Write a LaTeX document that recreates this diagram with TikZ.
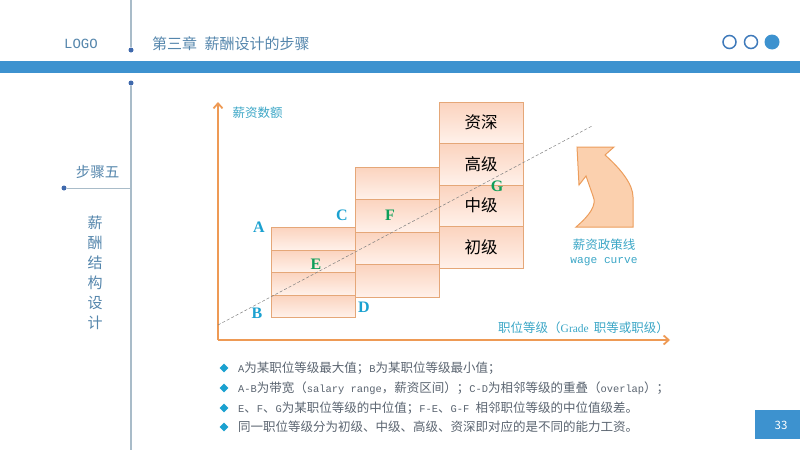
\documentclass[tikz,border=0pt]{standalone}
\usepackage{fontspec}
\setmainfont{Noto Sans CJK SC}
\newfontfamily\lettfont{Liberation Serif}
\newfontfamily\monofont{Liberation Mono}
\usetikzlibrary{positioning,shapes.geometric,arrows.meta}
\definecolor{barblue}{HTML}{3D92CF}
\definecolor{headblue}{HTML}{5586AC}
\definecolor{dotblue}{HTML}{3F69AC}
\definecolor{ruleblue}{HTML}{A9BCC9}
\definecolor{tealtext}{HTML}{3BA6C6}
\definecolor{axisorange}{HTML}{EE9A55}
\definecolor{boxline}{HTML}{E5A778}
\definecolor{boxtop}{HTML}{FBD3BE}
\definecolor{boxbot}{HTML}{FFF1EA}
\definecolor{shapefill}{HTML}{FBD0AE}
\definecolor{lettblue}{HTML}{1BA1D0}
\definecolor{lettgreen}{HTML}{0E9F5A}
\definecolor{listgray}{HTML}{5A6470}
\newcommand{\fs}[1]{\fontsize{#1}{#1}\selectfont}
\newcommand{\ms}[1]{{\monofont\fs{10.4}#1}}
\newcommand{\gl}[1]{\raisebox{-2pt}{#1}}
\begin{document}
\begin{tikzpicture}[x=1pt, y=-1pt,
  grade/.style = {draw=boxline, top color=boxtop, bottom color=boxbot, minimum width=84pt, inner sep=0pt, outer sep=0pt, font=\fs{16.5}},
  lett/.style = {font=\lettfont\bfseries\fs{16}, inner sep=0pt},
  dot/.style = {circle, fill=dotblue, minimum size=5pt, inner sep=0pt},
  ring/.style = {circle, draw=#1, line width=1.5pt, minimum size=13pt, inner sep=0pt},
  bull/.style = {diamond, fill=lettblue, minimum size=9pt, inner sep=0pt},
  item/.style = {anchor=west, inner sep=0pt, text=listgray, font=\fs{12.5}},
  teal/.style = {text=tealtext, inner sep=0pt, font=\fs{12.5}},
  head/.style = {text=headblue, inner sep=0pt},
  axis/.style = {-{Straight Barb[length=5pt,width=9pt]}, axisorange, line width=1.8pt}]
\useasboundingbox (0,0) rectangle (800,450);
\fill[barblue] (0,61) rectangle (800,73);
\node[dot] (d1) at (131,50) {};
\node[dot] (d2) at (131,83) {};
\node[dot] (d3) at (64,188) {};
\coordinate (t1) at (131,0);
\coordinate (t2) at (131,450);
\coordinate (t3) at (131,188);
\draw[ruleblue, line width=1.5pt] (t1) -- (d1);
\draw[ruleblue, line width=1.5pt] (d2) -- (t2);
\draw[ruleblue, line width=1pt] (d3) -- (t3);
\node[head, font=\monofont\fs{14}] (logo) at (81,44) {LOGO};
\node[head, anchor=west, font=\fs{15}] (title) at (152,44) {第三章\hspace{0.5em}薪酬设计的步骤};
\node[ring=dotblue!60!barblue] (r1) at (729.5,42) {};
\node[ring=dotblue!60!barblue] (r2) at (751,42) {};
\node[circle, fill=barblue, minimum size=15pt, inner sep=0pt] (r3) at (772,42) {};
\node[head, font=\fs{14.5}] (step5) at (97.5,172) {步骤五};
\node[head, font=\fs{15}, align=center] (side) at (95,272.5) {薪\\[5pt]酬\\[5pt]结\\[5pt]构\\[5pt]设\\[5pt]计};
\coordinate (o) at (218,340);
\coordinate (ytip) at (218,102);
\coordinate (xtip) at (670,340);
\draw[axis] (o) -- (ytip);
\draw[axis] (o) -- (xtip);
\node[grade, minimum height=22pt, anchor=north west] (a1) at (271,295) {};
\node[grade, minimum height=23pt] (a2) [above=0pt of a1] {};
\node[grade, minimum height=22pt] (a3) [above=0pt of a2] {};
\node[grade, minimum height=23pt] (a4) [above=0pt of a3] {};
\node[grade, minimum height=33pt, anchor=north west] (b1) at (355,264) {};
\node[grade, minimum height=32pt] (b2) [above=0pt of b1] {};
\node[grade, minimum height=33pt] (b3) [above=0pt of b2] {};
\node[grade, minimum height=32pt] (b4) [above=0pt of b3] {};
\node[grade, minimum height=42pt, anchor=north west] (c1) at (439,226) {\gl{初级}};
\node[grade, minimum height=41pt] (c2) [above=0pt of c1] {\gl{中级}};
\node[grade, minimum height=42pt] (c3) [above=0pt of c2] {\gl{高级}};
\node[grade, minimum height=41pt] (c4) [above=0pt of c3] {\gl{资深}};
\coordinate (w1) at (218,325);
\coordinate (w2) at (592,126);
\draw[densely dashed, gray, line width=0.5pt] (w1) -- (w2);
\node[lett, text=lettblue] (A) at (259,227) {A};
\node[lett, text=lettblue] (B) at (257,313) {B};
\node[lett, text=lettblue] (C) at (342,215) {C};
\node[lett, text=lettblue] (D) at (364,307) {D};
\node[lett, text=lettgreen] (E) at (316,264) {E};
\node[lett, text=lettgreen] (F) at (390,215) {F};
\node[lett, text=lettgreen] (G) at (497,186) {G};
\draw[axisorange!80!boxline, fill=shapefill, line width=1pt] (577,147) -- (614,147) -- (605,155) .. controls (622,170) and (633,185) .. (633,197) -- (633,227) -- (576,227) .. controls (590,215) and (597,205) .. (593,196) -- (586,176) -- (579,185) -- cycle;
\node[teal] (ylab) at (257.5,113) {薪资数额};
\node[teal, anchor=east] (xlab) at (669,328) {职位等级（{\lettfont\fs{11.5}Grade}\hspace{0.4em}职等或职级）};
\node[teal] (wage) at (604,245) {薪资政策线};
\node[teal, font=\monofont\fs{11.2}] (curve) at (604,262) {wage curve};
\node[bull] (i1) at (224,368) {};
\node[bull] (i2) at (224,388) {};
\node[bull] (i3) at (224,408) {};
\node[bull] (i4) at (224,427) {};
\node[item] (l1) at (238,368) {\ms{A}为某职位等级最大值；\ms{B}为某职位等级最小值；};
\node[item] (l2) at (238,388) {\ms{A-B}为带宽（\ms{salary range}，薪资区间）；\ms{C-D}为相邻等级的重叠（\ms{overlap}）；};
\node[item] (l3) at (238,408) {\ms{E}、\ms{F}、\ms{G}为某职位等级的中位值；\ms{F-E}、\ms{G-F}\hspace{0.5em}相邻职位等级的中位值级差。};
\node[item] (l4) at (238,427) {同一职位等级分为初级、中级、高级、资深即对应的是不同的能力工资。};
\fill[barblue] (755,410) rectangle (800,439);
\node[text=white, font=\fs{11.5}, inner sep=0pt] (page) at (781,425) {33};
\end{tikzpicture}
\end{document}
